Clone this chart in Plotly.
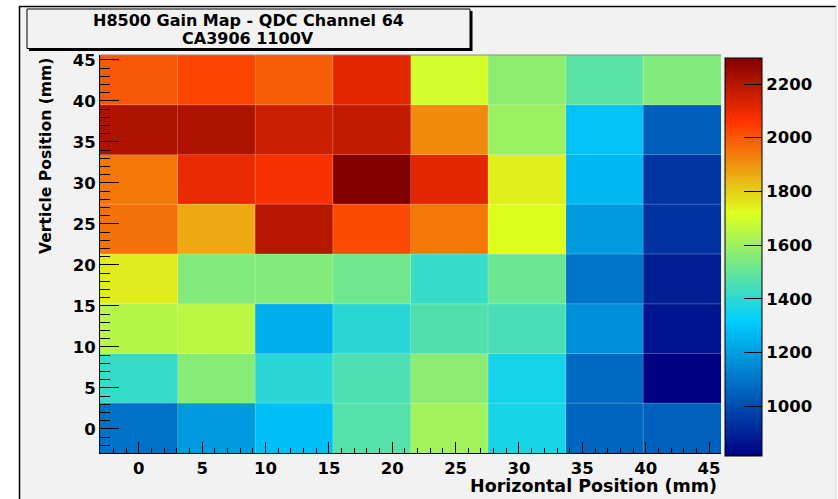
import plotly.graph_objects as go

# ---- data ----
x_edges = [-3.06, 3.06, 9.19, 15.31, 21.44, 27.56, 33.69, 39.81, 45.94]
y_edges = [-2.95, 3.12, 9.19, 15.25, 21.32, 27.39, 33.46, 39.53, 45.6]

# gain (QDC) per cell, rows from bottom (y~0 mm) to top (y~45 mm)
row_y0 = [1090, 1190, 1285, 1472, 1609, 1360, 1060, 1050]
row_y6 = [1415, 1560, 1392, 1456, 1570, 1355, 1070, 814]
row_y12 = [1645, 1654, 1240, 1392, 1464, 1446, 1163, 865]
row_y18 = [1750, 1554, 1555, 1518, 1419, 1510, 1096, 887]
row_y24 = [1955, 1863, 2196, 2021, 1946, 1720, 1190, 935]
row_y30 = [1946, 2100, 2075, 2297, 2114, 1746, 1263, 942]
row_y36 = [2214, 2214, 2157, 2177, 1914, 1600, 1290, 1045]
row_y42 = [1997, 2031, 1988, 2114, 1698, 1572, 1481, 1554]
gain = [row_y0, row_y6, row_y12, row_y18, row_y24, row_y30, row_y36, row_y42]

cbar_ticks = [1000, 1200, 1400, 1600, 1800, 2000, 2200]
title_line1 = "H8500 Gain Map - QDC Channel 64"
title_line2 = "CA3906 1100V"
x_title = "Horizontal Position (mm)"
y_title = "Verticle Position (mm)"

# ---- layout geometry (pixels) ----
W, H = 838, 499
L, R, T, B = 100, 721, 55, 453


def px(xp, yp):
    return (xp - L) / (R - L), (B - yp) / (B - T)


root_palette = [
    [0.00, "rgb(0,0,130)"],
    [0.34, "rgb(0,207,255)"],
    [0.61, "rgb(222,255,31)"],
    [0.84, "rgb(255,51,0)"],
    [1.00, "rgb(130,0,0)"],
]

bold = dict(family="DejaVu Sans", size=16.5, color="black", weight="bold")

fig = go.Figure()
fig.add_trace(go.Heatmap(
    x=x_edges, y=y_edges, z=gain,
    colorscale=root_palette,
    hoverinfo="skip",
    colorbar=dict(
        x=px(725, 0)[0], xanchor="left", xpad=0,
        y=px(0, 257)[1], yanchor="middle", ypad=0,
        len=1.0, lenmode="fraction",
        thickness=37, thicknessmode="pixels",
        outlinewidth=1, outlinecolor="black",
        ticks="inside", ticklen=18, tickcolor="black", tickwidth=1,
        tickvals=cbar_ticks, tickfont=bold,
    ),
))

shapes = []
# canvas
x0, y0 = px(20, 7)
x1, y1 = px(836, 499)
shapes.append(dict(type="rect", xref="paper", yref="paper", x0=x0, y0=y0, x1=x1, y1=y1,
                   fillcolor="#f2f2f2", line=dict(width=0), layer="below"))
a, b = px(19.5, 6)
c, d = px(19.5, 499)
shapes.append(dict(type="line", xref="paper", yref="paper", x0=a, y0=b, x1=c, y1=d,
                   line=dict(color="black", width=1.5), layer="below"))
a, b = px(19, 6.5)
c, d = px(836, 6.5)
shapes.append(dict(type="line", xref="paper", yref="paper", x0=a, y0=b, x1=c, y1=d,
                   line=dict(color="black", width=1.5), layer="below"))
a, b = px(836, 6)
c, d = px(836, 499)
shapes.append(dict(type="line", xref="paper", yref="paper", x0=a, y0=b, x1=c, y1=d,
                   line=dict(color="#d4d4d4", width=1), layer="below"))
# title box with shadow
a, b = px(29, 11)
c, d = px(472.5, 51)
shapes.append(dict(type="rect", xref="paper", yref="paper", x0=a, y0=b, x1=c, y1=d,
                   fillcolor="black", line=dict(width=0)))
a, b = px(27, 9)
c, d = px(470, 48.5)
shapes.append(dict(type="rect", xref="paper", yref="paper", x0=a, y0=b, x1=c, y1=d,
                   fillcolor="#f2f2f2", line=dict(color="black", width=1)))
# top frame line
a, b = px(L, T)
c, d = px(R, T)
shapes.append(dict(type="line", xref="paper", yref="paper", x0=a, y0=b, x1=c, y1=d,
                   line=dict(color="#8a8a8a", width=1)))
# faint cell boundaries
for xe in x_edges[1:-1]:
    shapes.append(dict(type="line", xref="x", yref="y", x0=xe, x1=xe,
                       y0=y_edges[0], y1=y_edges[-1],
                       line=dict(color="rgba(255,255,255,0.25)", width=1)))
for ye in y_edges[1:-1]:
    shapes.append(dict(type="line", xref="x", yref="y", y0=ye, y1=ye,
                       x0=x_edges[0], x1=x_edges[-1],
                       line=dict(color="rgba(255,255,255,0.25)", width=1)))

annotations = []
title_font = dict(bold, size=16)
ax, ay = px(248, 21)
annotations.append(dict(text=title_line1, xref="paper", yref="paper", x=ax, y=ay,
                        xanchor="center", yanchor="middle", showarrow=False, font=title_font))
ax, ay = px(248, 38)
annotations.append(dict(text=title_line2, xref="paper", yref="paper", x=ax, y=ay,
                        xanchor="center", yanchor="middle", showarrow=False, font=title_font))
ax, ay = px(719, 486)
annotations.append(dict(text=x_title, xref="paper", yref="paper", x=ax, y=ay,
                        xanchor="right", yanchor="middle", showarrow=False,
                        font=dict(bold, size=17.5)))
ax, ay = px(46, 156)
annotations.append(dict(text=y_title, xref="paper", yref="paper", x=ax, y=ay,
                        xanchor="center", yanchor="middle", textangle=-90, showarrow=False,
                        font=dict(bold, size=15.6)))

axis_common = dict(
    showgrid=False, zeroline=False, showline=True, linecolor="black", linewidth=1,
    tick0=0, dtick=5, ticks="inside", tickcolor="black", tickwidth=1,
    tickfont=bold,
)
fig.update_xaxes(range=[x_edges[0], x_edges[-1]], ticklen=11,
                 minor=dict(dtick=1, tick0=0, ticks="inside", ticklen=5.5, tickcolor="black"),
                 **axis_common)
fig.update_yaxes(range=[y_edges[0], y_edges[-1]], ticklen=19,
                 minor=dict(dtick=1, tick0=0, ticks="inside", ticklen=9.5, tickcolor="black"),
                 **axis_common)

fig.update_layout(
    width=W, height=H,
    margin=dict(l=L, r=W - R, t=T, b=H - B, autoexpand=False),
    paper_bgcolor="white", plot_bgcolor="#f2f2f2",
    shapes=shapes, annotations=annotations, showlegend=False,
)

fig.write_html("out.html")
